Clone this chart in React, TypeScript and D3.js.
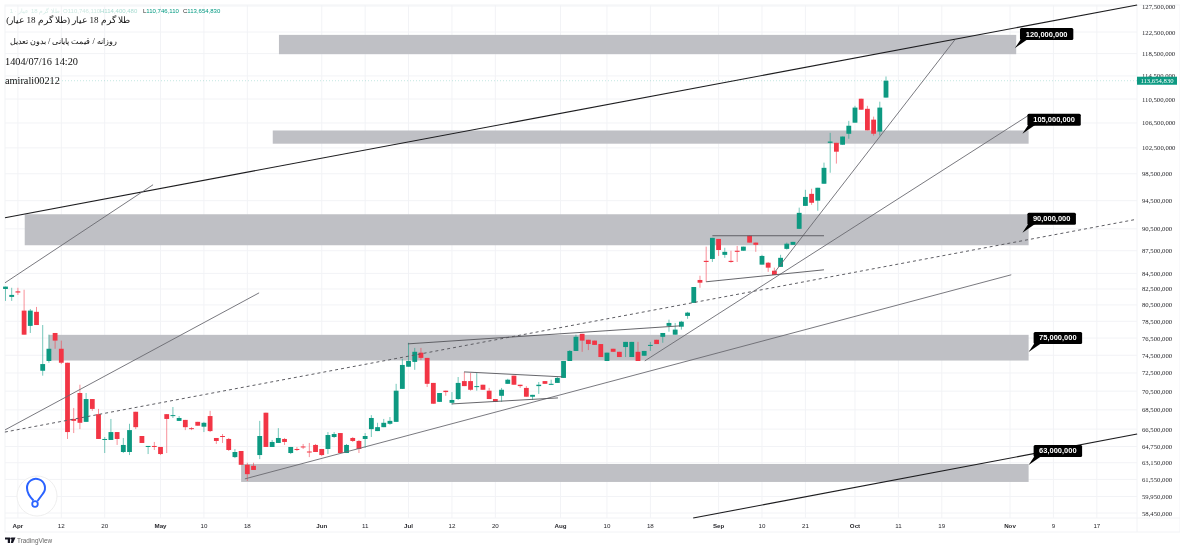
import React from "react";
import * as d3 from "d3";

// prices are in millions of rials, x positions are bar numbers
const opens = [
  82.5, 81.5, 82.2, 79.8, 77.95, 79.65, 72.75, 73.85, 77.1, 75.25,
  73.65, 67.55, 70.3, 67.25, 69.65, 68.05, 65.4, 65.4, 66.2, 64.2,
  64.2, 68.3, 65.8, 64.75, 64.8, 64.7, 68.05, 67.85, 67.35, 67.45,
  66.6, 67.25, 66.75, 67.85, 65.6, 65.8, 65.5, 63.7, 64.3, 62.95,
  62.85, 63.9, 68.2, 64.7, 65.1, 65.5, 64.1, 64.5, 64.75, 64.25,
  64.9, 64.5, 64.5, 65.7, 66.1, 64.1, 65.6, 65.3, 65.5, 66.5,
  66.3, 66.7, 67.05, 67.25, 70.75, 73.2, 73.75, 74.8, 74.2, 71.4,
  69.35, 70.55, 69.25, 69.65, 71.6, 71.6, 70.95, 71.2, 70.55, 69.65,
  70.0, 71.3, 72.2, 71.2, 70.85, 69.9, 71.05, 71.6, 71.25, 71.4,
  71.95, 73.85, 75.0, 77.0, 76.3, 76.2, 75.8, 73.85, 75.25, 74.9,
  75.45, 74.3, 74.9, 74.45, 75.6, 76.3, 76.65, 77.95, 76.9, 77.85,
  79.15, 80.75, 83.65, 86.15, 86.4, 89.1, 86.95, 86.15, 87.5, 87.5,
  89.55, 88.6, 85.65, 85.9, 84.85, 85.35, 87.75, 88.3, 90.5, 93.75,
  95.5, 94.5, 97.0, 103.3, 103.3, 103.0, 104.75, 106.55, 110.55, 108.85,
  107.05, 105.1, 110.746,
];
const highs = [
  82.8, 82.65, 82.65, 82.4, 80.0, 80.25, 78.05, 76.9, 77.1, 76.2,
  73.65, 68.7, 71.2, 70.3, 69.65, 68.6, 65.7, 67.55, 66.2, 65.6,
  67.05, 68.3, 65.8, 64.8, 65.2, 64.7, 68.05, 68.8, 67.85, 67.45,
  66.7, 67.25, 67.25, 68.4, 65.6, 66.0, 65.6, 64.5, 64.3, 63.15,
  63.15, 67.35, 68.2, 65.4, 66.6, 65.6, 64.7, 64.7, 65.0, 65.1,
  65.0, 64.5, 66.2, 66.2, 66.1, 65.0, 65.7, 65.4, 66.1, 67.95,
  67.15, 67.55, 67.75, 71.3, 74.1, 75.95, 75.35, 75.35, 74.2, 71.4,
  70.3, 70.55, 70.4, 72.05, 72.6, 72.5, 72.5, 71.2, 70.85, 69.65,
  70.85, 71.85, 72.2, 71.2, 71.05, 70.1, 71.5, 71.6, 71.75, 72.05,
  73.85, 75.1, 76.9, 77.0, 76.3, 76.2, 75.8, 74.8, 75.25, 74.9,
  76.05, 76.05, 76.05, 75.0, 76.05, 76.3, 77.1, 78.7, 78.3, 78.55,
  79.65, 82.75, 84.2, 88.05, 89.25, 89.1, 87.9, 87.5, 88.15, 88.05,
  89.55, 88.6, 86.95, 86.0, 85.25, 86.95, 88.6, 88.7, 93.5, 96.1,
  96.25, 96.4, 100.2, 104.9, 103.3, 104.3, 106.85, 109.35, 110.55, 109.35,
  107.55, 110.05, 114.4,
];
const lows = [
  81.0, 81.0, 81.75, 76.9, 77.1, 78.05, 72.2, 73.65, 75.25, 73.5,
  65.5, 66.1, 66.5, 67.25, 68.4, 65.5, 64.1, 65.4, 64.9, 64.1,
  63.9, 66.5, 65.1, 64.0, 64.4, 63.9, 64.1, 67.65, 67.35, 66.4,
  66.4, 66.85, 66.2, 66.2, 65.0, 65.1, 64.3, 63.6, 62.95, 61.4,
  62.45, 63.5, 64.7, 64.7, 65.1, 64.9, 64.0, 64.3, 64.5, 63.7,
  64.2, 63.8, 64.0, 65.6, 64.1, 64.1, 65.2, 64.1, 64.6, 65.7,
  66.3, 66.7, 66.95, 67.25, 70.75, 73.2, 72.85, 73.95, 70.95, 69.15,
  69.35, 70.0, 69.05, 69.55, 71.05, 70.55, 70.55, 70.65, 69.65, 69.35,
  69.35, 71.3, 71.2, 70.85, 69.9, 69.55, 70.2, 71.3, 71.2, 71.4,
  71.95, 73.85, 75.0, 74.9, 75.1, 75.7, 74.3, 73.85, 74.9, 74.3,
  74.3, 74.3, 73.85, 74.45, 75.0, 75.8, 75.95, 77.25, 76.9, 77.5,
  78.8, 80.75, 82.65, 83.4, 86.0, 86.8, 86.55, 85.9, 86.0, 87.5,
  88.6, 87.35, 85.65, 84.7, 84.3, 85.35, 87.65, 88.3, 90.5, 93.75,
  93.9, 93.05, 97.0, 98.65, 100.05, 103.0, 103.95, 106.55, 108.7, 105.3,
  104.45, 104.45, 110.746,
];
const closes = [
  82.8, 81.75, 82.05, 76.9, 79.8, 78.05, 73.5, 75.25, 76.2, 73.65,
  66.2, 67.35, 67.15, 69.65, 68.6, 65.5, 65.5, 66.2, 65.5, 64.9,
  66.4, 66.7, 65.1, 64.8, 64.7, 64.0, 67.55, 67.95, 67.65, 66.7,
  66.5, 66.85, 67.15, 66.3, 65.3, 65.75, 64.4, 64.2, 62.95, 62.05,
  62.45, 65.8, 64.7, 65.2, 65.6, 65.2, 64.7, 64.4, 64.7, 64.2,
  64.2, 63.9, 65.9, 66.0, 64.1, 64.9, 65.3, 64.5, 65.8, 67.65,
  66.7, 67.15, 67.35, 70.55, 73.4, 73.85, 74.9, 74.2, 71.3, 69.15,
  70.3, 70.4, 69.55, 71.4, 71.05, 70.65, 71.05, 70.65, 69.65, 69.35,
  70.65, 71.75, 71.2, 71.05, 69.9, 70.1, 71.2, 71.3, 71.3, 71.95,
  73.85, 75.0, 76.65, 76.2, 75.8, 75.7, 74.3, 74.8, 74.9, 74.3,
  76.05, 76.05, 73.85, 75.0, 75.7, 75.8, 77.1, 78.3, 77.5, 78.45,
  79.55, 82.75, 83.3, 86.0, 89.25, 87.6, 87.35, 86.0, 87.35, 88.05,
  88.6, 88.3, 86.8, 85.25, 84.3, 86.55, 88.45, 88.7, 92.75, 95.05,
  94.2, 96.4, 99.4, 103.5, 101.9, 104.3, 106.05, 109.05, 108.7, 105.3,
  104.75, 109.05, 113.65483,
];

const priceTicks = [
  127.5, 122.5, 118.5, 114.5, 110.5, 106.5, 102.5, 98.5, 94.5, 90.5, 87.5, 84.5, 82.5,
  80.5, 78.5, 76.5, 74.5, 72.5, 70.5, 68.5, 66.5, 64.75, 63.15, 61.55, 59.95, 58.45,
];
const timeTickBars = [2, 9, 16, 25, 32, 39, 51, 58, 65, 72, 79, 89.5, 97, 104, 115, 122, 129, 137, 144, 151, 162, 169, 176];
const timeTickLabels = [
  "Apr", "12", "20", "May", "10", "18", "Jun", "11", "Jul", "12", "20", "Aug", "10", "18",
  "Sep", "10", "21", "Oct", "11", "19", "Nov", "9", "17",
];
const monthLabels = ["Apr", "May", "Jun", "Jul", "Aug", "Sep", "Oct", "Nov"];

// [first bar, last bar, top price, bottom price]
const zones = [
  [44.1, 163, 121.96, 118.39],
  [43.1, 165, 105.28, 103.16],
  [3.1, 165, 92.55, 88.24],
  [7, 165, 76.88, 73.9],
  [38, 165, 63.03, 61.31],
];
// [bar, price, bar, price]
const solidLines = [
  [-0.08, 92.06, 182.5, 127.7],
  [110.9, 58.0, 182.5, 66.0],
];
const thinLines = [
  [38.6, 61.6, 162.2, 84.32],
  [103.1, 73.86, 164.9, 107.7],
  [124.1, 84.71, 153.1, 121.03],
  [-0.08, 83.29, 23.8, 96.85],
  [-0.08, 66.42, 40.9, 82.01],
];
const dashedLines = [[-0.1, 66.2, 182, 91.77]];
const channelLines = [
  [64.9, 75.82, 108.8, 77.95],
  [73.95, 72.62, 89.75, 72.07],
  [72, 69.13, 89.1, 69.77],
  [114, 89.54, 132, 89.54],
  [113, 83.42, 132, 84.97],
];
const calloutLevels = [120, 105, 90, 75, 63];
const calloutTipBars = [162.8, 164, 164, 165, 165];
const calloutTipPrices = [119.5, 104.76, 89.95, 74.89, 62.93];

const titleLines = ["طلا گرم 18 عیار (طلا گرم 18 عیار)", "روزانه / قیمت پایانی / بدون تعدیل", "1404/07/16 14:20", "amirali00212"];

const WIDTH = 1185;
const HEIGHT = 550;
const PLOT_LEFT = 5;
const PLOT_RIGHT = 1137;
const PLOT_TOP = 5;
const PLOT_BOTTOM = 518;
const UP = "#089981";
const DOWN = "#f23645";
const GRID = "#f2f3f6";
const SERIF = "'Liberation Serif', serif";
const SANS = "'Liberation Sans', sans-serif";

const x = d3.scaleLinear().domain([0, 142]).range([5.5, 886]);
const y = d3.scaleLog().domain([58.45, 127.5]).range([513, 6]);
const fmt = d3.format(",");
const money = (m: number) => fmt(Math.round(m * 1e6));

const segment = (row: number[], i: number) => (
  <line key={i} x1={x(row[0])} y1={y(row[1])} x2={x(row[2])} y2={y(row[3])} />
);

export default function App() {
  const last = closes[closes.length - 1];
  return (
    <svg width={WIDTH} height={HEIGHT} style={{ position: "absolute", left: 0, top: 0, background: "#fff" }}>
      {/* the reference is a soft, rescaled screenshot */}
      <defs>
        <filter id="soft" x="0" y="0" width="100%" height="100%">
          <feGaussianBlur stdDeviation="0.35" />
        </filter>
      </defs>
      <g filter="url(#soft)">
        {/* frame and grid */}
        <g stroke={GRID} strokeWidth={1} fill="none">
          {priceTicks.map((t) => (
            <line key={t} x1={PLOT_LEFT} x2={PLOT_RIGHT} y1={y(t)} y2={y(t)} />
          ))}
          {timeTickBars.map((b) => (
            <line key={b} x1={x(b)} x2={x(b)} y1={PLOT_TOP} y2={PLOT_BOTTOM} />
          ))}
          <rect x={PLOT_LEFT} y={PLOT_TOP} width={1175} height={527} />
          <line x1={PLOT_LEFT} x2={1180} y1={PLOT_BOTTOM} y2={PLOT_BOTTOM} />
          <line x1={PLOT_RIGHT} x2={PLOT_RIGHT} y1={PLOT_TOP} y2={532} />
        </g>

        {zones.map((z, i) => (
          <rect key={i} x={x(z[0])} y={y(z[2])} width={x(z[1]) - x(z[0])} height={y(z[3]) - y(z[2])} fill="#bfc0c5" />
        ))}

        <line x1={PLOT_LEFT} x2={PLOT_RIGHT} y1={y(last)} y2={y(last)} stroke={UP} strokeOpacity={0.3} strokeWidth={0.8} strokeDasharray="1 2" />

        {/* candles */}
        {closes.map((c, i) => {
          const color = c >= opens[i] ? UP : DOWN;
          const top = y(Math.max(c, opens[i]));
          const bottom = y(Math.min(c, opens[i]));
          return (
            <g key={i}>
              <line x1={x(i)} x2={x(i)} y1={y(highs[i])} y2={y(lows[i])} stroke={color} strokeOpacity={0.55} strokeWidth={1} />
              <rect x={x(i) - 2.4} width={4.8} y={top} height={Math.max(bottom - top, 1)} fill={color} />
            </g>
          );
        })}

        {/* drawings */}
        <g stroke="#1c1c1f" strokeWidth={1.1}>{solidLines.map(segment)}</g>
        <g stroke="#6a6a70" strokeWidth={0.9}>{thinLines.map(segment)}</g>
        <g stroke="#5d5d63" strokeWidth={1} strokeDasharray="3 3">{dashedLines.map(segment)}</g>
        <g stroke="#55555a" strokeWidth={0.9}>{channelLines.map(segment)}</g>

        {/* level callouts */}
        {calloutLevels.map((level, i) => {
          const tipX = x(calloutTipBars[i]);
          const tipY = y(calloutTipPrices[i]);
          const label = money(level);
          const w = label.length * 4.85;
          return (
            <g key={level}>
              <path d={`M${tipX},${tipY}L${tipX + 6},${tipY - 9}L${tipX + 13},${tipY - 9}Z`} fill="#000" />
              <rect x={tipX + 5} y={tipY - 20} width={w} height={12} rx={1.5} fill="#000" />
              <text x={tipX + 5 + w / 2} y={tipY - 14} textAnchor="middle" dominantBaseline="central" fill="#fff" fontFamily={SANS} fontWeight={700} fontSize={7.5}>
                {label}
              </text>
            </g>
          );
        })}

        {/* price axis */}
        {priceTicks.map((t) => (
          <text key={t} x={1142} y={y(t)} dominantBaseline="central" fontFamily={SERIF} fontSize={6.7} fill="#2a2a2e">
            {money(t)}
          </text>
        ))}
        <rect x={PLOT_RIGHT} y={y(last) - 4} width={40} height={8} fill={UP} />
        <text x={1157} y={y(last)} textAnchor="middle" dominantBaseline="central" fontFamily={SERIF} fontSize={6.7} fill="#fff">
          {money(last)}
        </text>

        {/* time axis */}
        {timeTickBars.map((b, i) => (
          <text
            key={b}
            x={x(b)}
            y={525}
            textAnchor="middle"
            dominantBaseline="central"
            fontFamily={SANS}
            fontSize={6.2}
            fontWeight={monthLabels.includes(timeTickLabels[i]) ? 700 : 400}
            fill="#2a2a2e"
          >
            {timeTickLabels[i]}
          </text>
        ))}

        {/* header text */}
        <g fontFamily={SANS} fontSize={6}>
          <text x={60} y={12.5} direction="rtl" fill="#d4ebe6">طلا گرم 18 عیار · 1</text>
          <text x={63} y={12.5} fill="#cfe9e3">O110,746,110</text>
          <text x={100} y={12.5} fill="#a8dbd1">H114,400,480</text>
          <text x={143} y={12.5} fill={UP}><tspan fill="#333">L</tspan>110,746,110</text>
          <text x={183} y={12.5} fill={UP}><tspan fill="#333">C</tspan>113,654,830</text>
        </g>
        <g fontFamily={SERIF} fill="#111">
          <text x={130} y={23} direction="rtl" fontSize={9}>{titleLines[0]}</text>
          <text x={117} y={44} direction="rtl" fontSize={8.4}>{titleLines[1]}</text>
          <text x={5} y={65} fontSize={10.3}>{titleLines[2]}</text>
          <text x={5} y={84} fontSize={10.3}>{titleLines[3]}</text>
        </g>

        {/* watermark badge */}
        <circle cx={37} cy={496} r={20} fill="#fff" stroke="#eeeeee" strokeWidth={1} />
        <path d="M33.5,500.5C30,497 27,493 27,488A9,9 0 1 1 43,493.5L37.5,501" fill="none" stroke="#2962ff" strokeWidth={2} />
        <circle cx={35} cy={504} r={2.8} fill="none" stroke="#2962ff" strokeWidth={1.8} />

        {/* tradingview mark */}
        <path d="M5,537.5H10V543H7.8V539.5H5ZM12,537.5H15.5L13,543H10.8Z" fill="#131722" />
        <circle cx={11.3} cy={538.6} r={1} fill="#131722" />
        <text x={17} y={543} fontFamily={SANS} fontSize={6.4} fill="#666">TradingView</text>
      </g>
    </svg>
  );
}
